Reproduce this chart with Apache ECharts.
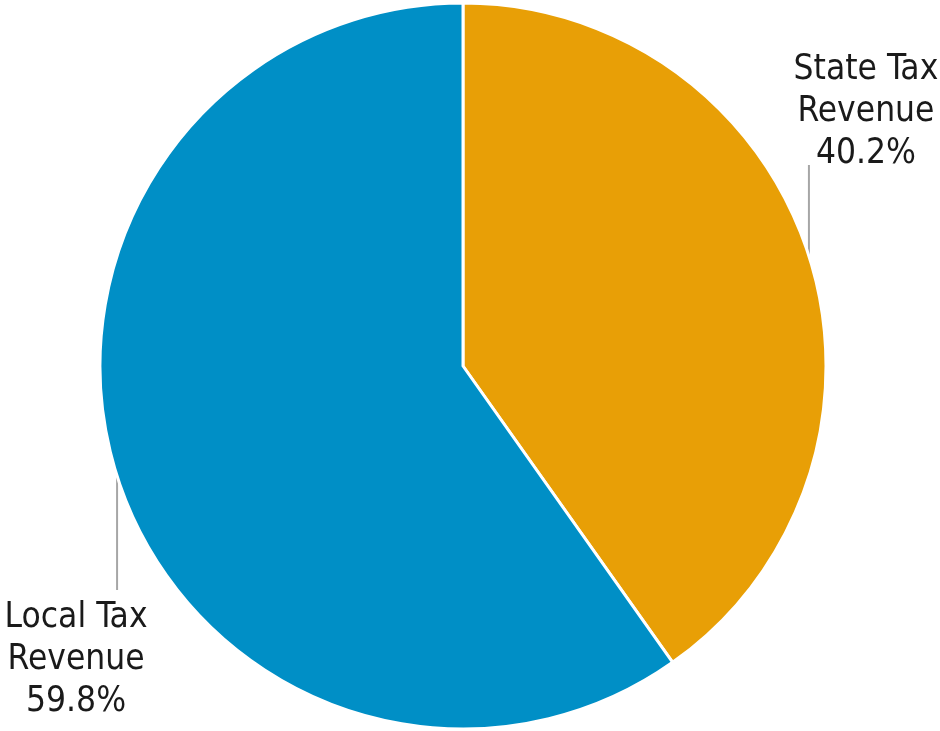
<!DOCTYPE html>
<html>
<head>
<meta charset="utf-8">
<script src="https://cdn.jsdelivr.net/npm/echarts@6/dist/echarts.min.js"></script>
<style>html,body{margin:0;padding:0;background:#fff;}#c{width:940px;height:731px;}</style>
</head>
<body>
<div id="c"></div>
<script>
const categories = ['State Tax\nRevenue', 'Local Tax\nRevenue'];
const values = [40.2, 59.8];
const colors = ['#E89F06', '#008FC6'];

const chart = echarts.init(document.getElementById('c'), null, {renderer: 'canvas'});
const CY = 366;
chart.setOption({
  animation: false,
  series: [{
    type: 'pie',
    center: [463, CY],
    radius: [0, 363],
    startAngle: 90,
    clockwise: true,
    data: categories.map((n, i) => ({name: n, value: values[i], itemStyle: {color: colors[i]}})),
    itemStyle: {borderColor: '#ffffff', borderWidth: 3},
    label: {
      show: true,
      position: 'outside',
      formatter: p => p.name + '\n' + p.value.toFixed(1) + '%',
      fontFamily: 'DejaVu Sans Condensed',
      fontSize: 35,
      lineHeight: 42,
      color: '#1a1a1a',
      align: 'center',
      overflow: 'none',
      width: 300
    },
    labelLine: {show: true, lineStyle: {color: '#a6a6a6', width: 2}, length: 20, length2: 20},
    labelLayout: function (p) {
      const s = p.labelLinePoints[0];
      const up = s[1] < CY;
      if (up) {
        const endY = s[1] - 91;
        return {x: s[0] + 57, y: endY + 10, align: 'center', verticalAlign: 'bottom', hideOverlap: false,
          labelLinePoints: [[s[0], s[1]], [s[0], endY], [s[0], endY]]};
      } else {
        const endY = s[1] + 114;
        return {x: s[0] - 41, y: endY + 7, align: 'center', verticalAlign: 'top', hideOverlap: false,
          labelLinePoints: [[s[0], s[1]], [s[0], endY], [s[0], endY]]};
      }
    }
  }]
});
</script>
</body>
</html>
